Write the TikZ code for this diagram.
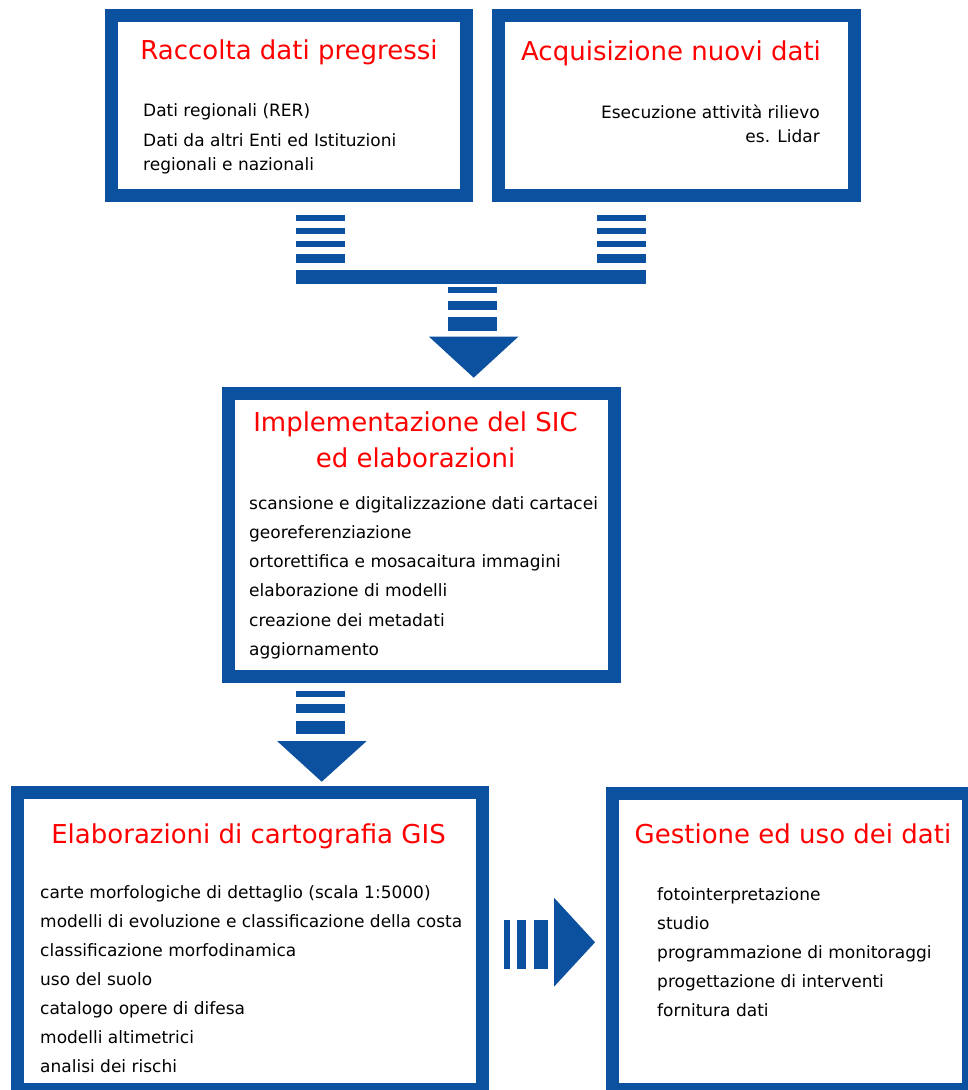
\documentclass[tikz,border=0pt]{standalone}
\usepackage{fontspec}
\setmainfont{DejaVu Sans}
\definecolor{sicblue}{RGB}{12,80,160}

\begin{document}
\begin{tikzpicture}[x=1pt, y=-1pt
    , box/.style = {rectangle,draw=sicblue,line width=13pt,fill=white,inner sep=0pt,outer sep=0pt}
    , title/.style = {text=red,font=\fontsize{26}{30}\selectfont,anchor=base,inner sep=0pt}
    , item/.style = {font=\fontsize{17}{20}\selectfont,anchor=base west,inner sep=0pt}
    , bar/.style = {fill=sicblue}
]
\useasboundingbox (0,0) rectangle (968,1090);

% boxes
\node[box,minimum width=355pt,minimum height=180pt] (raccolta) at (289,105.5) {};
\node[box,minimum width=356pt,minimum height=180pt] (acquisizione) at (676.5,105.5) {};
\node[box,minimum width=386pt,minimum height=283pt] (sic) at (421.5,535) {};
\node[box,minimum width=465pt,minimum height=297pt] (gis) at (250,941) {};
\node[box,minimum width=356pt,minimum height=296pt] (gestione) at (790.5,941.5) {};

% titles
\node[title] (raccolta-t) at (289,59) {Raccolta dati pregressi};
\node[title] (acquisizione-t) at (671,60) {Acquisizione nuovi dati};
\node[title] (sic-t1) at (415.5,431.7) {Implementazione del SIC};
\node[title] (sic-t2) at (415.5,467) {ed elaborazioni};
\node[title] (gis-t) at (248.5,843) {Elaborazioni di cartografia GIS};
\node[title] (gestione-t) at (793,843) {Gestione ed uso dei dati};

% contents
\node[item] (raccolta-1) at (143,116) {Dati regionali (RER)};
\node[item] (raccolta-2) at (143,146) {Dati da altri Enti ed Istituzioni};
\node[item] (raccolta-3) at (143,170) {regionali e nazionali};
\node[item,anchor=base east] (acquisizione-1) at (820,118) {Esecuzione attività rilievo};
\node[item,anchor=base east] (acquisizione-2) at (820,142) {es. Lidar};
\foreach \t [count=\i from 0] in {scansione e digitalizzazione dati cartacei, georeferenziazione,
    ortorettifica e mosacaitura immagini, elaborazione di modelli, creazione dei metadati, aggiornamento}
    \node[item] (sic-\i) at (249,509+29.3*\i) {\t};
\foreach \t [count=\i from 0] in {carte morfologiche di dettaglio (scala 1:5000),
    modelli di evoluzione e classificazione della costa, classificazione morfodinamica,
    uso del suolo, catalogo opere di difesa, modelli altimetrici, analisi dei rischi}
    \node[item] (gis-\i) at (40,898+29*\i) {\t};
\foreach \t [count=\i from 0] in {fotointerpretazione, studio, programmazione di monitoraggi,
    progettazione di interventi, fornitura dati}
    \node[item] (gestione-\i) at (657,900+29*\i) {\t};

% arrow into the SIC box
\foreach \y/\h in {215/5.7, 228/5.7, 241/5.7, 254/8.7} {
    \fill[bar] (296,\y) rectangle (345,\y+\h);
    \fill[bar] (597,\y) rectangle (646,\y+\h);
}
\fill[bar] (296,270) rectangle (646,284);
\foreach \y/\h in {287/5.7, 301/8.7, 317/13.7}
    \fill[bar] (448,\y) rectangle (497,\y+\h);
\fill[bar] (429,336.7) -- (518.3,336.7) -- (473.7,377.7) -- cycle;

% arrow into the GIS box
\foreach \y/\h in {691/5.7, 704/8.7, 721/13.3}
    \fill[bar] (296,\y) rectangle (345,\y+\h);
\fill[bar] (277,741) -- (366.7,741) -- (321.7,781.7) -- cycle;

% arrow to the last box
\foreach \x/\w in {504/6, 516.7/9, 534/14.3}
    \fill[bar] (\x,920) rectangle (\x+\w,969);
\fill[bar] (554,897.7) -- (554,986.7) -- (595,942.3) -- cycle;
\end{tikzpicture}
\end{document}
